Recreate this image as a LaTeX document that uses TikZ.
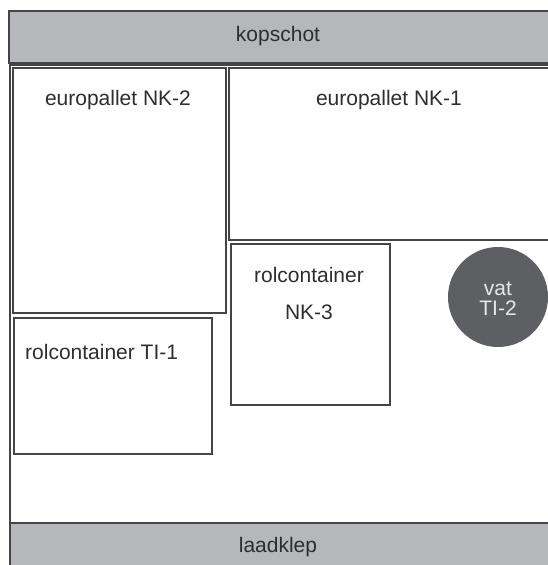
\documentclass[tikz,border=0pt]{standalone}
\usepackage{fontspec}
\setmainfont{Liberation Sans}
\definecolor{bargray}{HTML}{B6B7BA}
\definecolor{edge}{HTML}{454545}
\definecolor{txt}{HTML}{2E2E2E}
\definecolor{vatgray}{HTML}{5E5F62}
\definecolor{vattxt}{HTML}{E8E8E8}
\tikzset{
  box/.style={draw=edge, line width=2pt, fill=white, rectangle, inner sep=0pt, anchor=north west},
  bar/.style={draw=edge, line width=2pt, fill=bargray, rectangle, inner sep=0pt, anchor=north west},
  lbl/.style={text=txt, font=\fontsize{21}{24}\selectfont, inner sep=0pt},
}
\begin{document}
\begin{tikzpicture}[x=1pt,y=-1pt]
\useasboundingbox (0,0) rectangle (547,565);
% outer container
\node[box, minimum width=560pt, minimum height=520pt] (outer) at (9,64) {};
% header
\node[bar, minimum width=560pt, minimum height=52pt] (kop) at (8,10) {};
\node[lbl] (koptxt) at (278,36) {kopschot};
% europallet NK-2
\node[box, minimum width=213pt, minimum height=245pt] (nk2) at (12,67) {};
\node[lbl] (nk2txt) at (118,100) {europallet NK-2};
% europallet NK-1
\node[box, minimum width=340pt, minimum height=172pt] (nk1) at (228,67) {};
\node[lbl] (nk1txt) at (389,100) {europallet NK-1};
% rolcontainer NK-3
\node[box, minimum width=159pt, minimum height=161pt] (nk3) at (230,243) {};
\node[lbl] (nk3a) at (309,275) {rolcontainer};
\node[lbl] (nk3b) at (309,312) {NK-3};
% vat TI-2
\node[circle, fill=vatgray, minimum size=100pt, inner sep=0pt] (vat) at (498,297) {};
\node[lbl, text=vattxt] (vata) at (498,289) {vat};
\node[lbl, text=vattxt] (vatb) at (498,308) {TI-2};
% rolcontainer TI-1
\node[box, minimum width=198pt, minimum height=136pt] (ti1) at (13,317) {};
\node[lbl, anchor=west] (ti1txt) at (25,352) {rolcontainer TI-1};
% laadklep
\node[bar, minimum width=560pt, minimum height=60pt] (laad) at (9,522) {};
\node[lbl] (laadtxt) at (278,547) {laadklep};
\end{tikzpicture}
\end{document}
